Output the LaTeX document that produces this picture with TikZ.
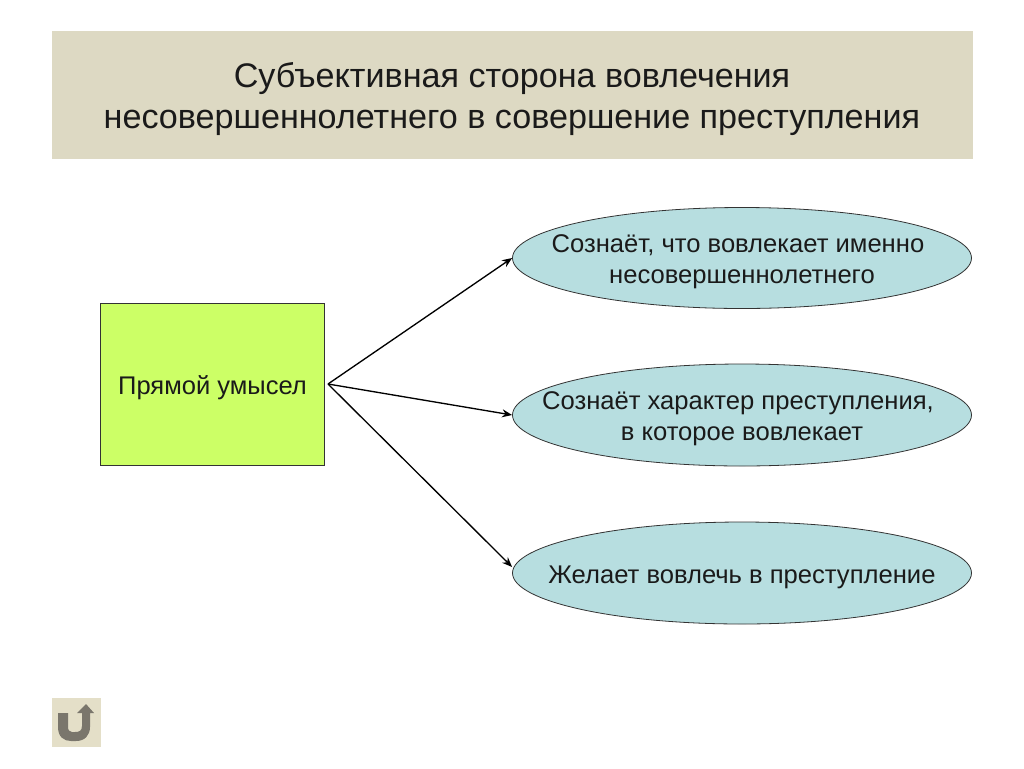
\documentclass[tikz,border=0pt]{standalone}
\usepackage{fontspec}
\setmainfont{Liberation Sans}
\usetikzlibrary{shapes.geometric,arrows.meta}
\definecolor{titlebg}{HTML}{DDD9C3}
\definecolor{boxg}{HTML}{CCFF66}
\definecolor{ell}{HTML}{B7DEE0}
\definecolor{btn}{HTML}{E4DFC8}
\definecolor{glyph}{HTML}{7A766C}
\definecolor{txt}{HTML}{1A1A1A}
\newcommand{\dnstrut}{\rule{0pt}{19.5pt}}
\newcommand{\trailgap}{\rule{6pt}{0pt}}
\tikzset{
 x=0.75pt,y=-0.75pt,
 oval/.style={ellipse,draw=black!80,line width=0.6pt,fill=ell,inner xsep=-60pt,inner ysep=-20pt,align=center,text=txt,minimum width=344.25pt,font=\fontsize{19.2pt}{23.25pt}\selectfont},
 conn/.style={draw=black,line width=1pt,-{Stealth[length=7.5pt,width=6pt]}},
}
\begin{document}
\begin{tikzpicture}
\useasboundingbox (0,0) rectangle (1024,768);
\fill[white] (0,0) rectangle (1024,768);
\node[fill=titlebg,minimum width=690.75pt,minimum height=96pt,inner sep=0pt,align=center,text=txt,font=\fontsize{25.6pt}{30.75pt}\selectfont] (title) at (512,95) {\rule{0pt}{25.5pt}Субъективная сторона вовлечения\\несовершеннолетнего в совершение преступления};
\node[draw=black!80,line width=0.6pt,fill=boxg,minimum width=168pt,minimum height=121.5pt,inner sep=0pt,text=txt,font=\fontsize{19.15pt}{23pt}\selectfont] (src) at (212.5,384) {\dnstrut Прямой умысел};
\node[oval,minimum height=75.75pt] (a) at (742,258) {\dnstrut Сознаёт, что вовлекает именно\trailgap\\несовершеннолетнего};
\node[oval,minimum height=76.5pt] (b) at (742,415) {\dnstrut Сознаёт характер преступления,\trailgap\\в которое вовлекает};
\node[oval,minimum height=76.5pt] (c) at (742,573) {\dnstrut Желает вовлечь в преступление};
\coordinate (o) at (328,384);
\draw[conn] (o) -- (a.west);
\draw[conn] (o) -- (b.west);
\draw[conn] (o) -- ([yshift=4.5pt]c.west);
\fill[btn] (52,698) rectangle (101,747);
\fill[glyph] (58,713) -- (58,727) .. controls (58,737) and (64,741) .. (71,741) -- (76,741) .. controls (85,741) and (90,735) .. (90,727) -- (90,713) -- (94,713) -- (86,704) -- (77,713) -- (82,713) -- (82,726) .. controls (82,731) and (79,732) .. (75,732) -- (72,732) .. controls (69,732) and (68,730) .. (68,726) -- (68,713) -- cycle;
\end{tikzpicture}
\end{document}
